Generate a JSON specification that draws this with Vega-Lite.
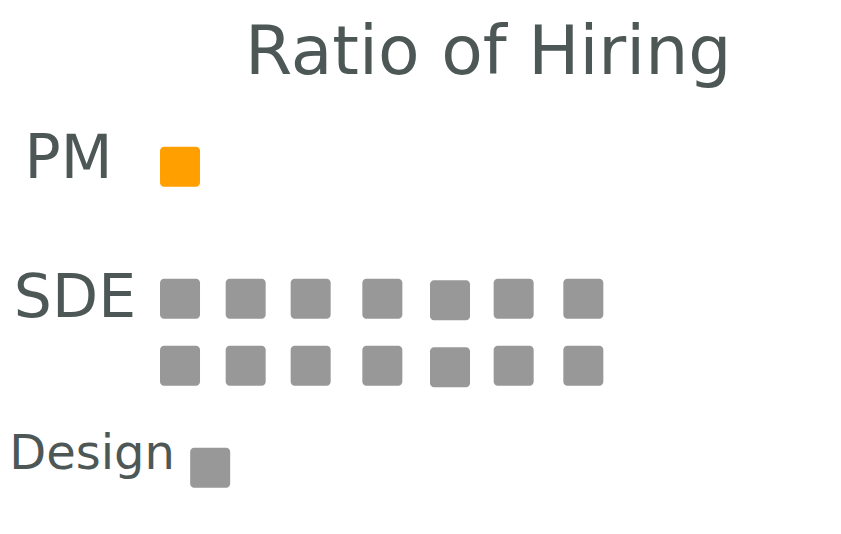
{
  "$schema": "https://vega.github.io/schema/vega-lite/v6.json",
  "width": 841,
  "height": 534,
  "padding": 0,
  "autosize": {"type": "none"},
  "background": "white",
  "config": {"view": {"stroke": null}},
  "datasets": {
    "squares": [
      {"role": "PM", "col": 0.0, "row": 0.0},
      {"role": "SDE", "col": 0.0, "row": 1.97},
      {"role": "SDE", "col": 0.98, "row": 1.97},
      {"role": "SDE", "col": 1.95, "row": 1.97},
      {"role": "SDE", "col": 3.02, "row": 1.97},
      {"role": "SDE", "col": 4.03, "row": 1.99},
      {"role": "SDE", "col": 4.98, "row": 1.97},
      {"role": "SDE", "col": 6.02, "row": 1.97},
      {"role": "SDE", "col": 0.0, "row": 2.97},
      {"role": "SDE", "col": 0.98, "row": 2.97},
      {"role": "SDE", "col": 1.95, "row": 2.97},
      {"role": "SDE", "col": 3.02, "row": 2.97},
      {"role": "SDE", "col": 4.03, "row": 2.99},
      {"role": "SDE", "col": 4.98, "row": 2.97},
      {"role": "SDE", "col": 6.02, "row": 2.97},
      {"role": "Design", "col": 0.45, "row": 4.49}
    ],
    "labels": [
      {"text": "PM", "col": -2.32, "row": -0.1},
      {"text": "SDE", "col": -2.48, "row": 1.97},
      {"text": "Design", "col": -2.55, "row": 4.3}
    ],
    "title": [
      {"text": "Ratio of  Hiring", "col": 4.6, "row": -1.68}
    ]
  },
  "layer": [
    {
      "data": {"name": "title"},
      "mark": {"type": "text", "font": "DejaVu Sans", "fontSize": 68, "color": "#4d5856", "align": "center", "baseline": "middle"},
      "encoding": {
        "x": {"field": "col", "type": "quantitative", "scale": {"domain": [-2.687, 9.866], "nice": false, "zero": false}, "axis": null},
        "y": {"field": "row", "type": "quantitative", "scale": {"domain": [-2.49, 5.48], "nice": false, "zero": false, "reverse": true}, "axis": null},
        "text": {"field": "text"}
      }
    },
    {
      "data": {"name": "labels"},
      "transform": [{"filter": "datum.text !== 'Design'"}],
      "mark": {"type": "text", "font": "DejaVu Sans", "fontSize": 60, "color": "#4d5856", "align": "left", "baseline": "middle"},
      "encoding": {
        "x": {"field": "col", "type": "quantitative", "scale": {"domain": [-2.687, 9.866], "nice": false, "zero": false}, "axis": null},
        "y": {"field": "row", "type": "quantitative", "scale": {"domain": [-2.49, 5.48], "nice": false, "zero": false, "reverse": true}, "axis": null},
        "text": {"field": "text"}
      }
    },
    {
      "data": {"name": "labels"},
      "transform": [{"filter": "datum.text === 'Design'"}],
      "mark": {"type": "text", "font": "DejaVu Sans", "fontSize": 48, "color": "#4d5856", "align": "left", "baseline": "middle"},
      "encoding": {
        "x": {"field": "col", "type": "quantitative", "scale": {"domain": [-2.687, 9.866], "nice": false, "zero": false}, "axis": null},
        "y": {"field": "row", "type": "quantitative", "scale": {"domain": [-2.49, 5.48], "nice": false, "zero": false, "reverse": true}, "axis": null},
        "text": {"field": "text"}
      }
    },
    {
      "data": {"name": "squares"},
      "mark": {"type": "rect", "width": 40, "height": 40, "cornerRadius": 4},
      "encoding": {
        "x": {"field": "col", "type": "quantitative", "scale": {"domain": [-2.687, 9.866], "nice": false, "zero": false}, "axis": null},
        "y": {"field": "row", "type": "quantitative", "scale": {"domain": [-2.49, 5.48], "nice": false, "zero": false, "reverse": true}, "axis": null},
        "color": {"field": "role", "type": "nominal", "scale": {"domain": ["PM", "SDE", "Design"], "range": ["#ff9f00", "#989898", "#989898"]}, "legend": null}
      }
    }
  ]
}
